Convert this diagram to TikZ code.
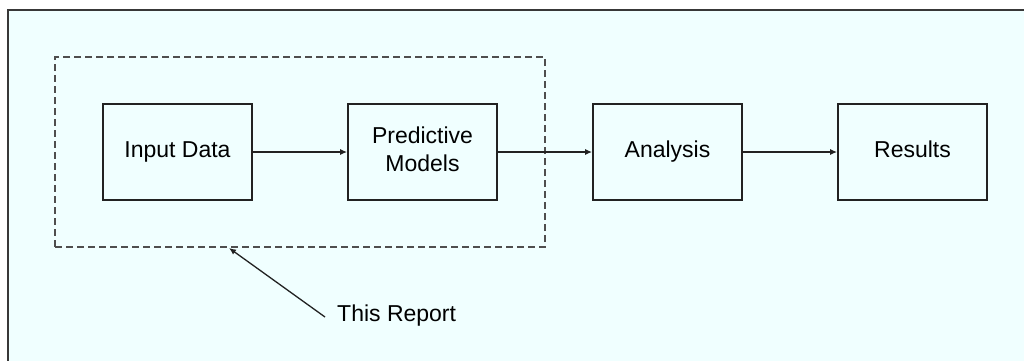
\documentclass[tikz,border=0pt]{standalone}
\usepackage{fontspec}
\setmainfont{Liberation Sans}
\usetikzlibrary{arrows.meta}
\definecolor{bgcyan}{HTML}{F0FFFF}
\definecolor{edge}{HTML}{222222}
\tikzset{
  stage/.style={draw=edge, line width=1.8pt, rectangle, minimum width=149pt, minimum height=96pt,
    inner sep=0pt, align=center, font=\fontsize{23pt}{28pt}\selectfont},
  flow/.style={draw=edge, line width=1.3pt, -{Latex[length=7pt,width=6pt]}},
  scopebox/.style={draw=edge!80, line width=1.8pt, dash pattern=on 7pt off 4pt, rectangle,
    minimum width=490pt, minimum height=190pt, inner sep=0pt},
  tag/.style={font=\fontsize{23pt}{28pt}\selectfont, inner sep=0pt, anchor=west}
}
\begin{document}
\begin{tikzpicture}[x=1pt,y=-1pt]
\useasboundingbox (0,0) rectangle (1024,360);
\clip (0,0) rectangle (1024,360);
\fill[white] (0,0) rectangle (1024,360);
\draw[fill=bgcyan, draw=edge!90, line width=2pt] (7.5,9.5) rectangle (1040,380);
\node[scopebox] (report) at (300,152) {};
\node[stage] (input) at (177.5,152) {\strut Input Data};
\node[stage] (models) at (422.5,152) {\strut Predictive\\\strut Models};
\node[stage] (analysis) at (667.5,152) {\strut Analysis};
\node[stage] (results) at (912.5,152) {\strut Results};
\draw[flow] (input) -- (models);
\draw[flow] (models) -- (analysis);
\draw[flow] (analysis) -- (results);
\node[tag] (this) at (337,316) {This Report};
\coordinate (start) at (325,317);
\coordinate (tip) at (229,248);
\draw[flow] (start) -- (tip);
\end{tikzpicture}
\end{document}
